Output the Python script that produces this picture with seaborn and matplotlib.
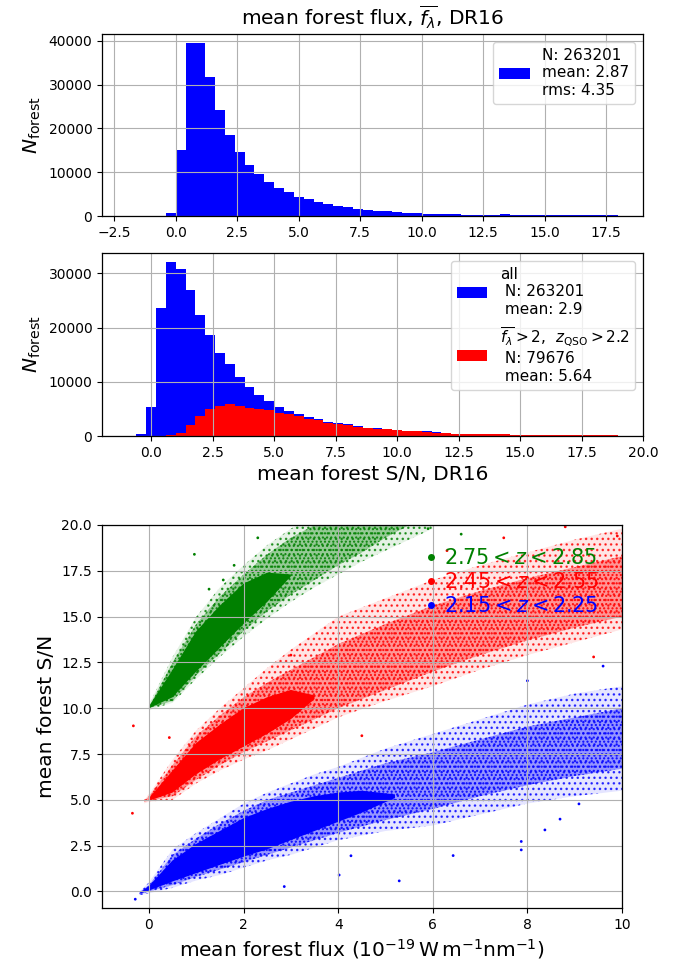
import numpy as np
import pandas as pd
import matplotlib
matplotlib.use("Agg")
import matplotlib.pyplot as plt
import seaborn as sns

# ---------------- data ----------------
# top histogram: mean forest flux, 50 bins of 0.4 starting at -2.0
flux_bin_start = -2.0
flux_bin_width = 0.4
flux_counts = [0, 0, 0, 0, 800, 15000, 39600, 39600, 31800, 24200,
               18500, 14600, 11700, 9500, 7800, 6300, 5500, 4450, 3900, 3200,
               2700, 2400, 1950, 1650, 1400, 1250, 1100, 870, 780, 620,
               540, 540, 470, 400, 320, 320, 260, 150, 420, 150,
               150, 150, 150, 150, 150, 150, 150, 150, 150, 150]
flux_legend = "N: 263201\nmean: 2.87\nrms: 4.35"

# middle histogram: mean forest S/N, 50 bins of 0.4 starting at -1.0
sn_bin_start = -1.0
sn_bin_width = 0.4
sn_counts_all = [0, 300, 5400, 23700, 32150, 30900, 27000, 22300, 18600, 15400,
                 13200, 10900, 8970, 7600, 6450, 5370, 4630, 4140, 3580, 3090,
                 2600, 2350, 2160, 1850, 1540, 1420, 1300, 1110, 990, 930,
                 860, 700, 620, 420, 400, 400, 400, 400, 400, 210,
                 200, 200, 200, 200, 200, 200, 200, 200, 200, 200]
sn_counts_cut = [0, 0, 0, 60, 150, 500, 2000, 3750, 4900, 5600,
                 5840, 5530, 5220, 5050, 4800, 4320, 4000, 3700, 3200, 2900,
                 2470, 2160, 2040, 1730, 1480, 1360, 1230, 1050, 930, 860,
                 740, 640, 580, 400, 370, 370, 370, 370, 370, 185,
                 185, 185, 185, 185, 185, 185, 185, 185, 185, 185]
sn_all_legend = "all\n N: 263201\n mean: 2.9"
sn_cut_legend = r"$\overline{f_\lambda}>2$,  $z_{\rm QSO}>2.2$" + "\n N: 79676\n mean: 5.64"

# bottom scatter: envelopes of the point clouds (flux -> S/N), read per flux value
z_labels = [r"$2.75 < z < 2.85$", r"$2.45 < z < 2.55$", r"$2.15 < z < 2.25$"]
z_colors = ["green", "red", "blue"]

green_x        = [0.0, 0.5, 1.0, 1.5, 2.0, 2.5, 3.0, 3.5, 4.0, 4.5, 5.0, 5.5, 6.0]
green_outer_lo = [9.9, 10.3, 11.6, 12.8, 13.9, 14.9, 15.8, 16.6, 17.3, 18.0, 18.6, 19.2, 19.8]
green_outer_hi = [10.2, 12.8, 15.0, 16.6, 17.8, 18.9, 19.8, 20.5, 21.0, 21.0, 21.0, 21.0, 21.0]
green_mid_lo   = [10.0, 10.4, 11.8, 13.0, 14.2, 15.3, 16.2, 17.0, 17.8, 18.5, 19.3, 20.0, 20.5]
green_mid_hi   = [10.1, 12.5, 14.6, 16.1, 17.3, 18.4, 19.3, 20.0, 20.5, 21.0, 21.0, 21.0, 21.0]
green_core_x   = [0.0, 0.5, 1.0, 1.5, 2.0, 2.5, 3.0]
green_core_lo  = [10.0, 10.6, 12.0, 13.3, 14.6, 15.8, 17.2]
green_core_hi  = [10.1, 12.1, 14.2, 15.6, 16.8, 17.4, 17.3]

red_x        = [-0.1, 0.0, 0.5, 1.0, 1.5, 2.0, 2.5, 3.0, 3.5, 4.0, 5.0, 6.0, 7.0, 8.0, 9.0, 10.0]
red_outer_lo = [4.8, 4.9, 5.0, 5.9, 6.6, 7.2, 7.7, 8.3, 8.9, 9.5, 10.4, 11.2, 12.1, 12.9, 13.6, 14.3]
red_outer_hi = [5.0, 5.3, 7.2, 8.8, 10.0, 11.1, 12.2, 13.2, 14.1, 15.0, 16.0, 17.0, 17.8, 18.5, 19.2, 19.8]
red_mid_lo   = [4.9, 4.95, 5.2, 6.1, 6.9, 7.6, 8.2, 8.8, 9.4, 10.0, 11.0, 12.0, 12.9, 13.7, 14.4, 15.0]
red_mid_hi   = [4.95, 5.2, 6.9, 8.5, 9.6, 10.6, 11.4, 12.1, 12.8, 13.5, 14.6, 15.6, 16.4, 17.1, 17.7, 18.3]
red_core_x   = [0.0, 0.5, 1.0, 1.5, 2.0, 2.5, 3.0, 3.5]
red_core_lo  = [4.95, 5.4, 6.4, 7.2, 7.9, 8.6, 9.4, 10.5]
red_core_hi  = [5.1, 6.6, 8.1, 9.1, 10.0, 10.6, 11.0, 10.7]

blue_x        = [-0.2, 0.0, 0.5, 1.0, 1.5, 2.0, 2.5, 3.0, 3.5, 4.0, 5.0, 6.0, 7.0, 8.0, 9.0, 10.0]
blue_outer_lo = [-0.2, -0.1, 0.2, 0.6, 0.9, 1.3, 1.7, 2.0, 2.4, 2.8, 3.3, 3.6, 4.2, 4.8, 5.2, 5.5]
blue_outer_hi = [0.0, 0.5, 2.3, 3.2, 4.0, 4.8, 5.4, 5.9, 6.4, 6.8, 7.8, 8.6, 9.4, 10.2, 10.8, 11.2]
blue_mid_lo   = [-0.15, 0.0, 0.35, 0.8, 1.2, 1.6, 2.0, 2.4, 2.8, 3.2, 3.9, 4.5, 5.2, 5.8, 6.3, 6.7]
blue_mid_hi   = [-0.05, 0.35, 2.0, 2.9, 3.7, 4.4, 5.0, 5.4, 5.8, 6.2, 7.0, 7.6, 8.3, 9.0, 9.5, 10.0]
blue_core_x   = [-0.2, 0.0, 0.5, 1.0, 1.5, 2.0, 2.5, 3.0, 3.5, 4.0, 4.5, 5.2]
blue_core_lo  = [-0.12, 0.05, 0.55, 1.0, 1.45, 1.9, 2.3, 2.8, 3.3, 3.8, 4.3, 5.1]
blue_core_hi  = [-0.08, 0.3, 1.7, 2.6, 3.3, 4.0, 4.5, 4.9, 5.2, 5.4, 5.5, 5.3]

# isolated points
green_pts_x = [0.96, 1.27, 1.57, 1.8, 6.6, 5.9, 2.3]
green_pts_y = [18.4, 16.5, 17.0, 17.8, 19.5, 19.8, 19.3]
red_pts_x = [-0.35, -0.33, 0.43, 9.9, 8.8, 6.3, 7.5, 9.4, 4.5, 3.0]
red_pts_y = [4.27, 9.04, 8.4, 19.4, 19.9, 18.6, 19.3, 12.8, 8.5, 12.9]
blue_pts_x = [-0.29, 5.29, 6.43, 7.87, 8.37, 8.69, 9.09, 7.87, 2.86, 4.02, 4.27, 9.6, 8.0]
blue_pts_y = [-0.42, 0.58, 1.96, 2.27, 3.36, 3.95, 4.78, 2.73, 0.27, 0.9, 1.95, 12.3, 11.5]

# ---------------- figure ----------------
plt.rcParams.update({
    "font.family": ["DejaVu Sans"],
    "axes.linewidth": 0.9,
    "xtick.labelsize": 10,
    "ytick.labelsize": 10,
    "grid.color": "#b0b0b0",
    "grid.linewidth": 0.8,
    "axes.axisbelow": "line",
})

fig = plt.figure(figsize=(6.87, 9.64), dpi=100)
ax1 = fig.add_axes([0.1485, 0.7759, 0.7875, 0.1888])
ax2 = fig.add_axes([0.1485, 0.5477, 0.7875, 0.1898])
ax3 = fig.add_axes([0.148, 0.0581, 0.7574, 0.3973])

# --- top histogram ---
n_flux = len(flux_counts)
flux_edges = (flux_bin_start + flux_bin_width * np.arange(n_flux + 1)).tolist()
flux_df = pd.DataFrame({"flux": np.array(flux_edges[:-1]) + flux_bin_width / 2,
                        "count": flux_counts})
sns.histplot(data=flux_df, x="flux", weights="count", bins=flux_edges, color="blue",
             alpha=1, linewidth=0, ax=ax1)
ax1.set_xlim(-3, 19)
ax1.set_xticks(np.arange(-2.5, 18, 2.5))
ax1.set_ylabel(r"$N_{\rm forest}$", fontsize=14.5)
ax1.set_xlabel("")
ax1.set_title(r"mean forest flux, $\overline{f_\lambda}$, DR16", fontsize=14.5, pad=6)
ax1.grid(True)
ax1.legend([ax1.containers[0]], [flux_legend], loc="upper right", fontsize=11,
           framealpha=0.8, edgecolor="0.8", handlelength=2.0, handleheight=0.8)

# --- middle histogram ---
n_sn = len(sn_counts_all)
sn_edges = (sn_bin_start + sn_bin_width * np.arange(n_sn + 1)).tolist()
sn_df = pd.DataFrame({"sn": np.array(sn_edges[:-1]) + sn_bin_width / 2,
                      "all": sn_counts_all, "cut": sn_counts_cut})
sns.histplot(data=sn_df, x="sn", weights="all", bins=sn_edges, color="blue",
             alpha=1, linewidth=0, ax=ax2)
sns.histplot(data=sn_df, x="sn", weights="cut", bins=sn_edges, color="red",
             alpha=1, linewidth=0, ax=ax2)
ax2.set_xlim(-2, 20)
ax2.set_xticks(np.arange(0, 20.1, 2.5))
ax2.set_ylabel(r"$N_{\rm forest}$", fontsize=14.5)
ax2.set_xlabel("mean forest S/N, DR16", fontsize=14.5)
ax2.grid(True)
ax2.legend([ax2.containers[0], ax2.containers[1]], [sn_all_legend, sn_cut_legend],
           loc="upper right", fontsize=11, framealpha=0.8, edgecolor="0.8",
           handlelength=2.0, handleheight=0.8, labelspacing=0.6)

# --- bottom scatter ---
clouds = [
    (green_x, green_outer_lo, green_outer_hi, green_mid_lo, green_mid_hi,
     green_core_x, green_core_lo, green_core_hi),
    (red_x, red_outer_lo, red_outer_hi, red_mid_lo, red_mid_hi,
     red_core_x, red_core_lo, red_core_hi),
    (blue_x, blue_outer_lo, blue_outer_hi, blue_mid_lo, blue_mid_hi,
     blue_core_x, blue_core_lo, blue_core_hi),
]
for col, (x, olo, ohi, mlo, mhi, cx, clo, chi) in zip(z_colors, clouds):
    rgb = matplotlib.colors.to_rgb(col)
    ax3.fill_between(x, olo, ohi, facecolor=rgb + (0.10,), edgecolor=rgb + (0.75,),
                     hatch="...", linewidth=0)
    ax3.fill_between(x, mlo, mhi, facecolor=rgb + (0.35,), edgecolor=rgb + (0.9,),
                     hatch="....", linewidth=0)
    ax3.fill_between(cx, clo, chi, facecolor=rgb, linewidth=0)

pts = pd.concat([
    pd.DataFrame({"flux": green_pts_x, "sn": green_pts_y, "zbin": z_labels[0]}),
    pd.DataFrame({"flux": red_pts_x, "sn": red_pts_y, "zbin": z_labels[1]}),
    pd.DataFrame({"flux": blue_pts_x, "sn": blue_pts_y, "zbin": z_labels[2]}),
])
sns.scatterplot(data=pts, x="flux", y="sn", hue="zbin", hue_order=z_labels,
                palette=dict(zip(z_labels, z_colors)), s=4, linewidth=0, ax=ax3)
handles, labels = ax3.get_legend_handles_labels()
leg = ax3.legend(handles, labels, loc="upper right", fontsize=15, frameon=False,
                 handletextpad=0.2, handlelength=0.8, labelspacing=0.2,
                 markerscale=2.5, borderaxespad=0.7)
for txt, col in zip(leg.get_texts(), z_colors):
    txt.set_color(col)

ax3.set_xlim(-1, 10)
ax3.set_ylim(-0.9, 20)
ax3.set_xticks(np.arange(0, 10.1, 2))
ax3.set_yticks(np.arange(0, 20.1, 2.5))
ax3.grid(True)
ax3.set_xlabel(r"mean forest flux ($10^{-19}\,\mathrm{W\,m^{-1}nm^{-1}}$)", fontsize=14.5)
ax3.set_ylabel("mean forest S/N", fontsize=14.5)

fig.savefig("out.png", dpi=100)
